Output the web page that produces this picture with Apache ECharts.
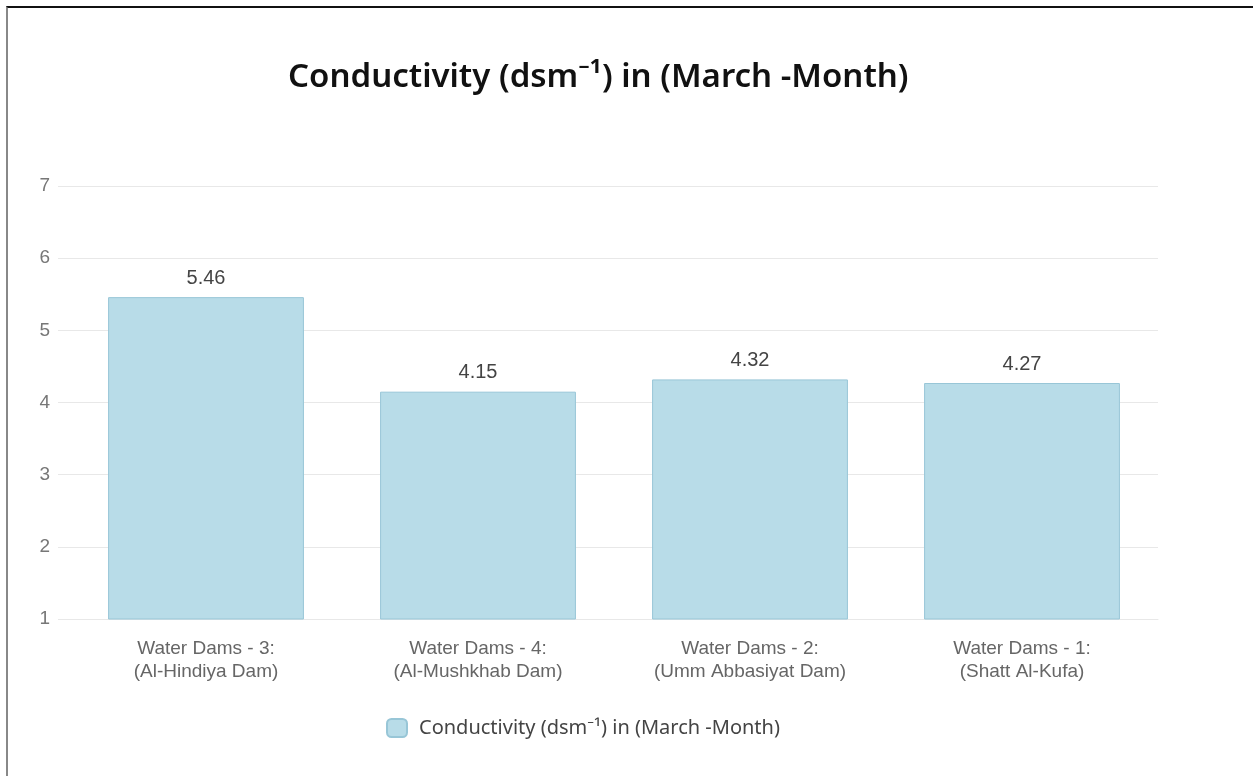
<!DOCTYPE html>
<html>
<head>
<meta charset="utf-8">
<script src="https://cdn.jsdelivr.net/npm/echarts@6/dist/echarts.min.js"></script>
<style>
  html, body { margin: 0; padding: 0; background: #fff; }
  #frame { position: absolute; left: 6px; top: 6px; width: 1247px; height: 770px;
           border-top: 2px solid #111; border-left: 2px solid #888; box-sizing: border-box; }
  #chart { position: absolute; left: 0; top: 0; width: 1253px; height: 776px; }
</style>
</head>
<body>
<div id="frame"></div>
<div id="chart"></div>
<script>
// 数据
var categories = [
    'Water Dams - 3:\n(Al-Hindiya Dam)',
    'Water Dams - 4:\n(Al-Mushkhab Dam)',
    'Water Dams - 2:\n(Umm Abbasiyat Dam)',
    'Water Dams - 1:\n(Shatt Al-Kufa)'
];
var conductivity = [5.46, 4.15, 4.32, 4.27];
var seriesName = 'Conductivity (dsm\u207B\u00B9) in (March -Month)';

var chartDom = echarts.init(document.getElementById('chart'));
chartDom.setOption({
    animation: false,
    title: {
        text: seriesName,
        left: 283,
        top: 56,
        textStyle: {
            fontFamily: 'Noto Sans',
            fontSize: 33,
            fontWeight: 600,
            color: '#111'
        }
    },
    legend: {
        left: 381,
        top: 713,
        itemWidth: 20,
        itemHeight: 18,
        itemGap: 10,
        textStyle: {
            fontFamily: 'Noto Sans',
            fontSize: 20,
            color: '#444',
            padding: [0, 0, 0, 7]
        },
        data: [seriesName]
    },
    grid: {
        left: 70,
        right: 95,
        top: 186,
        bottom: 157,
        containLabel: false
    },
    xAxis: {
        type: 'category',
        data: categories,
        axisLine: { lineStyle: { color: '#e8e8e8' } },
        axisTick: { show: false },
        axisLabel: {
            margin: 18,
            fontFamily: 'Liberation Sans',
            fontSize: 19,
            lineHeight: 23,
            color: '#666'
        }
    },
    yAxis: {
        type: 'value',
        min: 1,
        max: 7,
        interval: 1,
        axisLine: { show: false },
        axisTick: { show: true, length: 12, lineStyle: { color: '#e8e8e8' } },
        splitLine: { lineStyle: { color: '#e8e8e8' } },
        axisLabel: {
            margin: 20,
            fontFamily: 'Liberation Sans',
            fontSize: 19,
            color: '#777'
        }
    },
    series: [{
        name: seriesName,
        type: 'bar',
        data: conductivity,
        barWidth: '72%',
        itemStyle: {
            color: '#b8dce8',
            borderColor: '#98c6d7',
            borderWidth: 1
        },
        label: {
            show: true,
            position: 'top',
            distance: 9,
            fontFamily: 'Liberation Sans',
            fontSize: 20,
            color: '#444'
        }
    }]
});
</script>
</body>
</html>
